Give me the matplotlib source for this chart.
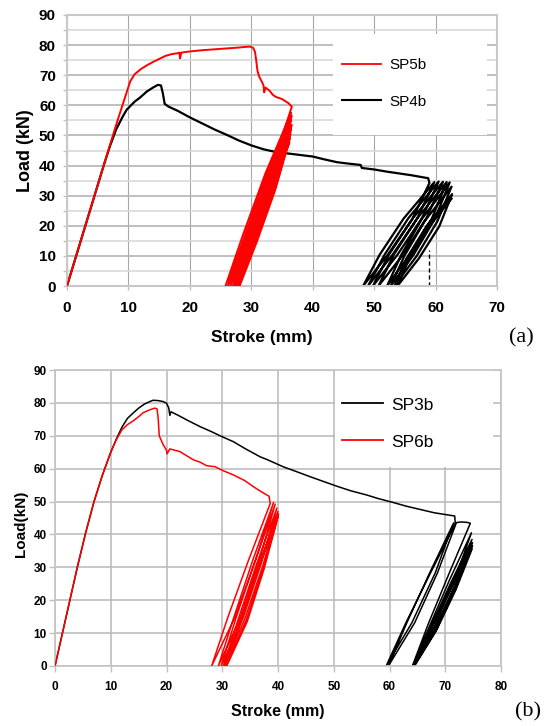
import matplotlib
matplotlib.use("Agg")
import matplotlib.pyplot as plt
from matplotlib.patches import Rectangle
from matplotlib.lines import Line2D

plt.rcParams['font.family'] = ['Liberation Sans', 'DejaVu Sans']

# ---------------- (a) SP5b / SP4b ----------------
sp5b_stroke = [0, 2, 4, 6, 8, 9.5, 10.3, 11, 12, 13, 14, 15, 16, 17, 18, 18.3, 18.4, 18.6,
               20, 22, 24, 26, 28, 29, 29.8, 30.3, 30.6, 30.8, 31, 31.3, 31.8, 32, 32.1, 32.3,
               33, 33.5, 34, 35, 36, 36.6,
               33.3, 29.4, 25.8, 28.7, 32.3, 36.5,
               33.3, 29.6, 26.2, 29.0, 32.5, 36.6,
               33.5, 30.0, 26.6, 29.2, 32.6, 36.5,
               33.6, 30.2, 27.0, 29.5, 32.8, 36.6,
               33.8, 30.4, 27.3, 29.7, 32.8, 36.5,
               33.8, 30.6, 27.6, 29.9, 32.9, 36.4,
               33.9, 30.8, 27.9, 30.1, 32.9, 36.3,
               33.9, 30.9, 28.1, 30.2, 32.9, 36.2]
sp5b_load = [0, 13.4, 26.8, 40.2, 53.5, 63, 68, 70.3, 72.0, 73.3, 74.4, 75.4, 76.4, 77, 77.3, 77.5, 75.6, 77.5,
             77.9, 78.3, 78.6, 78.9, 79.2, 79.4, 79.5, 79.1, 77.8, 75, 71.5, 69.5, 67.5, 66.5, 64.3, 65.9,
             64.8, 63.5, 62.8, 62.1, 60.8, 59.6,
             38.7, 17.9, 0, 17.3, 37.4, 57.5,
             37.4, 17.3, 0, 17.0, 36.7, 56.5,
             36.7, 17.0, 0, 16.5, 35.8, 55.0,
             35.8, 16.5, 0, 16.1, 34.8, 53.5,
             34.8, 16.1, 0, 15.6, 33.8, 52.0,
             33.8, 15.6, 0, 15.2, 32.8, 50.5,
             32.8, 15.2, 0, 14.7, 31.9, 49.0,
             31.9, 14.7, 0, 14.3, 30.9, 47.5]

sp4b_stroke = [0, 2, 4, 6, 7, 8, 9, 9.7, 11, 11.9, 13, 14, 14.8, 15.3, 15.6, 15.9, 16.5, 18, 20,
               22, 24, 26, 28, 30, 32, 34, 36, 38, 40, 42, 44, 46, 47.8, 48, 50, 52, 54, 56, 58.8, 59.0,
               56.2, 52.2, 48.2, 50.9, 54.8, 59.8,
               57.0, 53.0, 49.0, 51.7, 55.6, 60.5,
               57.8, 53.8, 49.8, 52.4, 56.3, 61.2,
               58.5, 54.7, 50.7, 53.2, 57.0, 61.8,
               59.4, 55.8, 52.1, 54.4, 57.8, 62.3,
               59.9, 56.4, 52.7, 54.9, 58.2, 62.6,
               60.3, 56.9, 53.3, 55.3, 58.5, 62.7,
               60.6, 57.3, 53.8, 55.6, 58.6, 62.6]
sp4b_load = [0, 13.4, 26.8, 40.2, 46.5, 52, 56, 58.5, 61.2, 62.6, 64.6, 65.9, 66.8, 66.6, 64, 60.5, 59.6, 58.2, 56,
             54, 52, 50.2, 48.3, 46.7, 45.4, 44.5, 44, 43.5, 43, 42, 41.1, 40.6, 40.2, 39.2, 38.7, 38, 37.4, 36.8, 35.8, 34.2,
             22.2, 10.3, 0, 10.4, 22.4, 34.5,
             22.4, 10.4, 0, 10.4, 22.6, 34.7,
             22.6, 10.4, 0, 10.4, 22.5, 34.6,
             22.5, 10.4, 0, 10.4, 22.4, 34.5,
             22.4, 10.4, 0, 10.3, 22.4, 34.4,
             22.4, 10.3, 0, 9.9, 21.5, 33.0,
             21.5, 9.9, 0, 9.2, 19.8, 30.5,
             19.8, 9.2, 0, 8.7, 18.9, 29.0]

marker_stroke = [59.0, 59.0]
marker_load = [0, 12.0]

# ---------------- (b) SP3b / SP6b ----------------
sp3b_stroke = [0, 2, 4, 5.5, 7, 8.5, 10, 11, 12, 13, 14, 15, 16, 17, 17.6, 18.5, 19.4, 20.0, 20.4, 20.6,
               20.8, 22, 24, 26, 28, 30, 32, 34, 36.8, 38, 40.9, 43, 45.7, 48, 50.5, 53, 55.9, 58,
               60.7, 63, 65.5, 68, 71.7, 71.8,
               67.3, 62.9, 59.4, 64.0, 68.2, 71.5,
               67.2, 63.1, 59.8, 64.5, 68.6, 72.0, 72.8, 73.8, 74.5,
               70.7, 67.0, 64.1, 68.1, 71.7, 74.7,
               70.8, 67.2, 64.2, 68.2, 71.8, 74.8,
               70.9, 67.3, 64.3, 68.3, 71.9, 74.9,
               71.0, 67.4, 64.4, 68.4, 71.9, 74.9,
               71.1, 67.4, 64.5, 68.4, 71.9, 74.8]
sp3b_load = [0, 15, 30, 40.5, 50, 58, 65, 69, 72.6, 75.3, 76.9, 78.4, 79.6, 80.4, 80.8, 80.7, 80.4, 79.9, 78.5, 76.2,
             77.3, 76.3, 74.5, 72.8, 71.3, 69.7, 68.2, 66.2, 63.6, 62.8, 60.6, 59.3, 57.6, 56.2, 54.7, 53.3, 52, 50.9,
             49.7, 48.6, 47.6, 46.6, 45.6, 43.2,
             28.1, 13.0, 0, 13.1, 28.3, 43.5,
             28.3, 13.1, 0, 13.1, 28.3, 43.6, 43.8, 43.7, 43.4,
             28.2, 13.0, 0, 12.2, 26.3, 40.5,
             26.3, 12.2, 0, 11.6, 25.0, 38.5,
             25.0, 11.6, 0, 11.3, 24.4, 37.5,
             24.4, 11.3, 0, 11.0, 23.7, 36.5,
             23.7, 11.0, 0, 10.7, 23.1, 35.5]

sp6b_stroke = [0, 2, 4, 5.5, 7, 8.5, 10, 11, 12, 13, 14, 15, 15.8, 17, 17.9, 18.3, 18.5, 18.7, 19.4,
               20, 20.1, 20.6, 22.4, 24.8, 26, 27.2, 28.7, 30, 32, 34, 35.6, 37, 38, 38.4, 38.6,
               34.7, 31.0, 28.1, 32.3, 36.0, 39.2,
               35.5, 32.1, 29.3, 33.3, 36.6, 39.5,
               35.9, 32.5, 29.8, 33.7, 37.0, 39.8,
               36.2, 32.9, 30.2, 34.0, 37.3, 40.0,
               36.5, 33.2, 30.5, 34.3, 37.4, 40.1,
               36.6, 33.4, 30.8, 34.5, 37.5, 40.0]
sp6b_load = [0, 15, 30, 40.5, 50, 58, 65, 68.8, 71.8, 73.4, 74.5, 75.8, 77, 77.9, 78.4, 78.2, 75.4, 70, 67.3,
             65.6, 64.5, 66, 65.2, 62.7, 62, 60.9, 60.6, 59.5, 58.1, 56.4, 54.5, 53, 52, 51.6, 49.4,
             32.1, 14.8, 0, 14.9, 32.3, 49.7,
             32.3, 14.9, 0, 14.8, 32.0, 49.2,
             32.0, 14.8, 0, 14.4, 31.2, 48.0,
             31.2, 14.4, 0, 14.1, 30.6, 47.0,
             30.6, 14.1, 0, 13.9, 30.0, 46.2,
             30.0, 13.9, 0, 13.6, 29.5, 45.3]

W, H = 545, 726
fig = plt.figure(figsize=(W / 100, H / 100), dpi=100)

# ---- top panel ----
ax1 = fig.add_axes([67 / W, 1 - 286 / H, 430 / W, 271 / H])
ax1.set_xlim(0, 70)
ax1.set_ylim(0, 90)
ax1.set_xticks(range(0, 71, 10))
ax1.set_yticks(range(0, 91, 10))
ax1.set_yticks(range(5, 90, 10), minor=True)
ax1.set_axisbelow(True)
ax1.grid(which='major', axis='x', color='#a8a8a8', lw=0.8)
ax1.grid(which='major', axis='y', color='#b4b4b4', lw=1.2)
ax1.grid(which='minor', axis='y', color='#d9d9d9', lw=1.2)
ax1.tick_params(which='both', length=3, color='#c0c0c0', width=1, pad=5)
ax1.tick_params(axis='x', pad=8)
for lbl in ax1.get_xticklabels() + ax1.get_yticklabels():
    lbl.set_fontweight('bold')
    lbl.set_fontsize(11)
for s in ax1.spines.values():
    s.set_color('#c8c8c8')
    s.set_linewidth(1.5)

ax1.add_patch(Rectangle((43.3, 50.2), 25.1, 33.6, facecolor='white', edgecolor='none', zorder=1))
ax1.plot(sp4b_stroke, sp4b_load, color='black', lw=1.6, zorder=2)
ax1.plot(sp5b_stroke, sp5b_load, color='#ff0000', lw=1.4, zorder=3)
ax1.plot(marker_stroke, marker_load, color='black', lw=1, ls=(0, (3, 2)), zorder=2)

h1 = [Line2D([], [], color='#ff0000', lw=1.3), Line2D([], [], color='black', lw=1.5)]
ax1.legend(h1, ['SP5b', 'SP4b'], loc='upper left', bbox_to_anchor=(0.6395, 0.840),
           frameon=False, fontsize=11, borderpad=0, borderaxespad=0,
           handlelength=2.53, handletextpad=0.54, labelspacing=1.47)

ax1.set_ylabel('Load (kN)', fontsize=13, fontweight='bold')
ax1.yaxis.set_label_coords((34 - 67) / 430, 0.5)
ax1.set_xlabel('Stroke (mm)', fontsize=12.5, fontweight='bold')
ax1.xaxis.set_label_coords((262 - 67) / 430, (286 - 330) / 271)
fig.text(521 / W, 1 - 338 / H, '(a)', fontsize=16, family=['Liberation Serif', 'DejaVu Serif'],
         ha='center', va='center')

# ---- bottom panel ----
ax2 = fig.add_axes([55 / W, 1 - 666 / H, 446 / W, 296 / H])
ax2.set_xlim(0, 80)
ax2.set_ylim(0, 90)
ax2.set_xticks(range(0, 81, 10))
ax2.set_yticks(range(0, 91, 10))
ax2.set_axisbelow(True)
ax2.grid(which='major', color='#b8b8b8', lw=1.1)
ax2.tick_params(length=4, color='#c0c0c0', width=1, pad=2)
ax2.tick_params(axis='x', pad=7)
for lbl in ax2.get_xticklabels() + ax2.get_yticklabels():
    lbl.set_fontweight('bold')
    lbl.set_fontsize(8.5)
for s in ax2.spines.values():
    s.set_color('#c4c4c4')
    s.set_linewidth(1.2)

ax2.add_patch(Rectangle((50.2, 60.5), 28.3, 29.5, facecolor='white', edgecolor='none', zorder=1))
ax2.plot(sp3b_stroke, sp3b_load, color='black', lw=1.1, zorder=2)
ax2.plot(sp6b_stroke, sp6b_load, color='#ff0000', lw=1.1, zorder=3)

h2 = [Line2D([], [], color='black', lw=1.3), Line2D([], [], color='#ff0000', lw=1.3)]
ax2.legend(h2, ['SP3b', 'SP6b'], loc='upper left', bbox_to_anchor=(0.643, 0.9075),
           frameon=False, fontsize=12.5, borderpad=0, borderaxespad=0,
           handlelength=2.36, handletextpad=0.48, labelspacing=1.26)

ax2.set_ylabel('Load(kN)', fontsize=11, fontweight='bold')
ax2.yaxis.set_label_coords((28 - 55) / 446, (666 - 524) / 296)
ax2.set_xlabel('Stroke (mm)', fontsize=11.5, fontweight='bold')
ax2.xaxis.set_label_coords(0.5, (666 - 704) / 296)
fig.text(528 / W, 1 - 712 / H, '(b)', fontsize=16, family=['Liberation Serif', 'DejaVu Serif'],
         ha='center', va='center')

fig.savefig('out.png', dpi=100)
